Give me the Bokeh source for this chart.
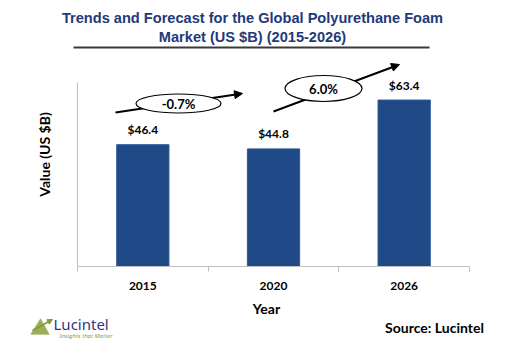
import math
from bokeh.plotting import figure
from bokeh.models import (Range1d, FixedTicker, Label, Arrow, NormalHead, PolyAnnotation,
                          ColumnDataSource, LinearAxis)
from bokeh.core.properties import value
from bokeh.embed import file_html
from bokeh.resources import INLINE

# ---- data ----
years = ["2015", "2020", "2026"]
values = [46.4, 44.8, 63.4]
value_labels = ["$46.4", "$44.8", "$63.4"]
cagr_labels = ["-0.7%", "6.0%"]

title_lines = ["Trends and Forecast for the Global Polyurethane Foam",
               "Market (US $B) (2015-2026)"]

BAR = "#1F4A87"
NAVY = "#1F3A7A"
GREY = "#BFBFBF"
FONT = "Lato"

W, H = 489, 347
# plot area in canvas pixels: x 77..469 <-> 0..3 ; y 266 <-> 0, 2.625 px per unit
SX = 392 / 3.0
SY = 2.625


def X(px):
    return (px - 77) / SX


def Y(py):
    return (266 - py) / SY


xs = [i + 0.5 for i in range(len(years))]

p = figure(width=W, height=H, output_backend="svg", toolbar_location=None,
           x_range=Range1d(X(0), X(W)), y_range=Range1d(Y(H), Y(0)),
           min_border=0, x_axis_location=None, y_axis_location=None)
p.outline_line_color = None
p.xgrid.visible = False
p.ygrid.visible = False
p.background_fill_color = "white"
p.border_fill_color = "white"

# axes (placed inside the frame at data 0)
xaxis = LinearAxis(fixed_location=0, bounds=(0, 3),
                   ticker=FixedTicker(ticks=xs, minor_ticks=[0, 1, 2, 3]),
                   major_label_overrides={x: y for x, y in zip(xs, years)})
xaxis.axis_line_color = GREY
xaxis.major_tick_line_color = None
xaxis.minor_tick_line_color = GREY
xaxis.minor_tick_out = 5
xaxis.minor_tick_in = 0
xaxis.major_label_standoff = 9
xaxis.major_label_text_font = FONT
xaxis.major_label_text_font_style = "bold"
xaxis.major_label_text_font_size = "12px"
xaxis.major_label_text_color = "black"
p.add_layout(xaxis, "below")

yaxis = LinearAxis(fixed_location=0, bounds=(0, 70), ticker=FixedTicker(ticks=[]))
yaxis.axis_line_color = GREY
yaxis.major_tick_line_color = None
yaxis.minor_tick_line_color = None
yaxis.major_label_text_font_size = "0px"
p.add_layout(yaxis, "left")

# bars
src = ColumnDataSource(dict(x=xs, top=values, lab=value_labels))
p.vbar(x="x", top="top", width=0.4, bottom=0, source=src,
       fill_color=BAR, line_color="#2B5A96", line_width=1)
p.text(x="x", y="top", text="lab", source=src, text_align="center",
       text_baseline="middle", y_offset=-15, text_font=value(FONT),
       text_font_style="bold", text_font_size="12px", text_color="black")

# CAGR arrows + ellipses
arrows = [((X(115), Y(112)), (X(242), Y(93))), ((X(273), Y(111)), (X(399), Y(64)))]
for (x0, y0), (x1, y1) in arrows:
    p.add_layout(Arrow(x_start=x0, y_start=y0, x_end=x1, y_end=y1,
                       line_color="black", line_width=2, level="underlay",
                       end=NormalHead(size=8, fill_color="black", line_color="black")))
ell = ColumnDataSource(dict(x=[X(178), X(323)], y=[Y(103), Y(88)], w=[85, 77], h=[19, 26],
                            lab=cagr_labels))
p.ellipse(x="x", y="y", width="w", height="h", width_units="screen", height_units="screen",
          source=ell, fill_color="white", line_color="black", line_width=1.2)
p.text(x="x", y="y", text="lab", source=ell, text_align="center", text_baseline="middle",
       text_font=value(FONT), text_font_style="bold", text_font_size="13px", text_color="black")

# title
for ty, t in zip([17, 36], title_lines):
    p.add_layout(Label(x=X(252), y=Y(ty), text=t, text_align="center", text_baseline="middle",
                       text_font="Liberation Sans", text_font_style="bold",
                       text_font_size="14.6px", text_color=NAVY))
p.add_layout(Arrow(x_start=X(73), y_start=Y(47), x_end=X(429), y_end=Y(47), end=None,
                   line_color="#3A3A3A", line_width=2))

# axis titles
p.add_layout(Label(x=X(44), y=Y(154), text="Value (US $B)", angle=math.pi / 2,
                   text_align="center", text_baseline="middle", text_font=FONT,
                   text_font_style="bold", text_font_size="14px", text_color="black"))
p.add_layout(Label(x=X(266), y=Y(308), text="Year", text_align="center", text_baseline="middle",
                   text_font=FONT, text_font_style="bold", text_font_size="14px",
                   text_color="black"))
p.add_layout(Label(x=X(434), y=Y(327), text="Source: Lucintel", text_align="center",
                   text_baseline="middle", text_font=FONT, text_font_style="bold",
                   text_font_size="14px", text_color="black"))

# logo
p.add_layout(PolyAnnotation(xs=[X(30), X(40), X(49)], ys=[Y(334), Y(318), Y(334)],
                            fill_color="#9BAF5A", fill_alpha=1, line_color="#9BAF5A"))
p.add_layout(Arrow(x_start=X(32), y_start=Y(330), x_end=X(52), y_end=Y(319),
                   line_color="#7F9A3A", line_width=1.5,
                   end=NormalHead(size=5, fill_color="#7F9A3A", line_color="#7F9A3A")))
p.add_layout(Label(x=X(53), y=Y(323), text="Lucintel",
                   text_align="left", text_baseline="middle", text_font="Noto Sans",
                   text_font_size="15px", text_color="#35358A"))
p.add_layout(Label(x=X(59), y=Y(335), text="Insights that Matter",
                   text_align="left", text_baseline="middle", text_font="Noto Sans",
                   text_font_style="italic", text_font_size="6px", text_color="#8BA04A"))

open("out.html", "w").write(file_html(p, INLINE))
